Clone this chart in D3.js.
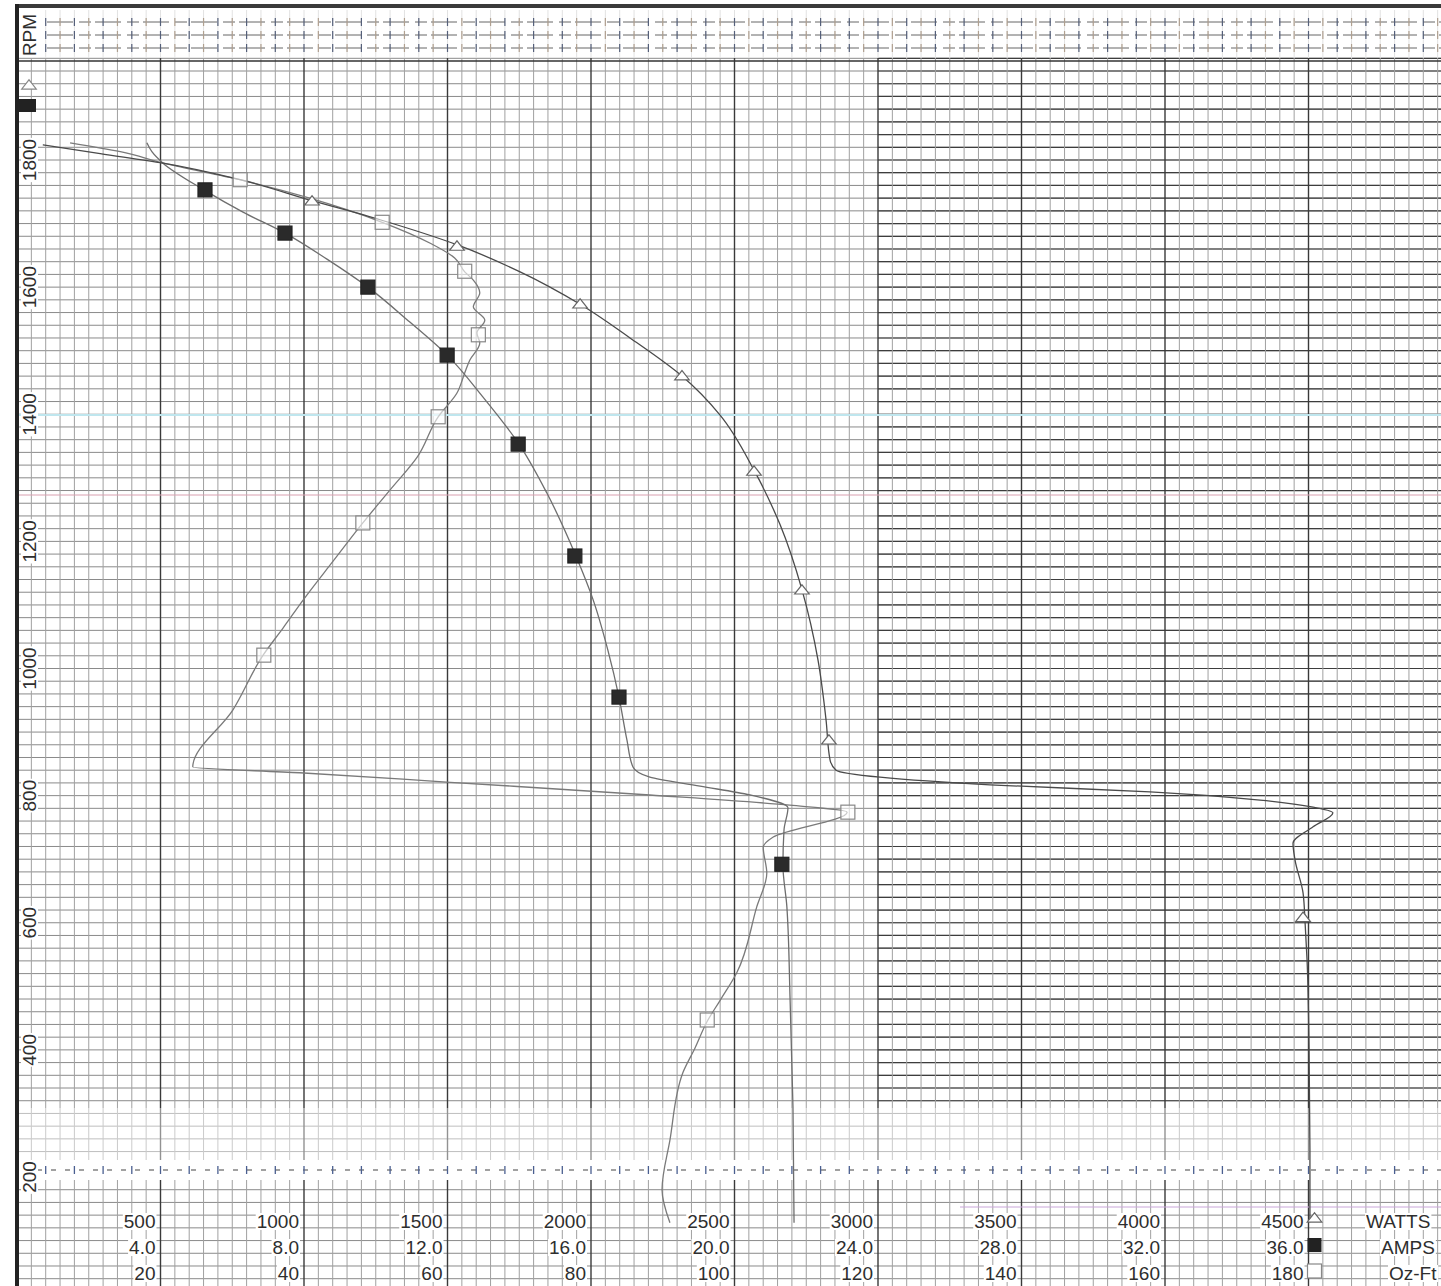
<!DOCTYPE html>
<html>
<head>
<meta charset="utf-8">
<script src="https://cdn.jsdelivr.net/npm/d3@7"></script>
<style>
html, body { margin: 0; padding: 0; background: #fff; }
svg { display: block; font-family: "Liberation Sans", Arial, sans-serif; }
</style>
</head>
<body>
<svg id="chart" width="1441" height="1286"></svg>
<script>
// ---- tick labels ----
const wattTicks = [500, 1000, 1500, 2000, 2500, 3000, 3500, 4000, 4500];
const ampTicks = [4, 8, 12, 16, 20, 24, 28, 32, 36];
const torqueTicks = [20, 40, 60, 80, 100, 120, 140, 160, 180];
const rpmTicks = [200, 400, 600, 800, 1000, 1200, 1400, 1600, 1800];
const seriesNames = ['WATTS', 'AMPS', 'Oz-Ft'];

// ---- curves, [value, rpm] ----
const wattsLine = [
    [90, 1824], [290, 1810], [509, 1795], [777, 1769], [1028, 1736], [1265, 1706],
    [1537, 1666], [1753, 1624], [1962, 1573], [2136, 1520], [2317, 1460], [2449, 1399],
    [2568, 1312], [2659, 1226], [2735, 1124], [2791, 1013], [2819, 919], [2833, 856],
    [2854, 840], [3007, 829], [3390, 817], [3948, 806], [4331, 793], [4516, 782],
    [4585, 773], [4516, 751], [4446, 725], [4453, 699], [4481, 647], [4488, 601],
    [4495, 541], [4502, 400], [4505, 242], [4505, 129]
];
const wattsMarks = [
    [1028, 1734], [1533, 1663], [1962, 1572], [2317, 1459], [2568, 1309],
    [2735, 1122], [2829, 886], [4481, 607]
];

const ampsLine = [
    [3.62, 1827], [3.76, 1813], [4.07, 1795], [5.21, 1753], [6.30, 1718], [7.47, 1685],
    [8.64, 1644], [9.78, 1600], [10.95, 1545], [11.99, 1493], [12.99, 1427], [13.97, 1355],
    [14.77, 1276], [15.58, 1177], [16.06, 1108], [16.47, 1029], [16.78, 955], [17.00, 888],
    [17.17, 845], [17.64, 829], [19.04, 815], [20.43, 801], [21.49, 781], [21.38, 746],
    [21.35, 691], [21.46, 625], [21.55, 478], [21.63, 310], [21.66, 128]
];
const ampsMarks = [
    [5.24, 1753], [7.47, 1685], [9.78, 1600], [11.99, 1493], [13.97, 1353],
    [15.55, 1177], [16.78, 955], [21.32, 692]
];

const torqueLine = [
    [7.4, 1827], [14.4, 1813], [20.4, 1795], [31.1, 1769], [40.8, 1740], [50.9, 1702],
    [57.6, 1669], [61.0, 1646], [62.4, 1624], [63.6, 1611], [64.5, 1591], [63.6, 1569],
    [65.2, 1548], [64.1, 1528], [64.5, 1512], [63.1, 1485], [62.4, 1465], [61.3, 1433],
    [58.7, 1396], [55.8, 1333], [52.0, 1281], [48.2, 1229], [44.0, 1168], [39.9, 1108],
    [37.1, 1064], [34.3, 1021], [30.1, 935], [24.5, 845], [39.4, 836], [60.4, 821],
    [88.2, 801], [107.7, 785], [115.7, 774], [105.4, 735], [104.0, 719], [104.5, 678],
    [103.1, 625], [100.3, 521], [98.0, 478], [96.2, 445], [94.5, 403], [92.8, 364],
    [91.0, 258], [89.9, 180], [91.0, 128]
];
const torqueMarks = [
    [31.1, 1769], [50.9, 1702], [62.4, 1625], [64.3, 1525], [58.7, 1396],
    [48.2, 1229], [34.4, 1021], [115.8, 774], [96.2, 447]
];

// ---- layout ----
const W = 1441, H = 1286;
const left = 17, right = 1452;
const gridTop = 58;

const xW = d3.scaleLinear().domain([0, 5000]).range([left, right]);
const xA = d3.scaleLinear().domain([0, 40]).range([left, right]);
const xT = d3.scaleLinear().domain([0, 200]).range([left, right]);
const y = d3.scaleLinear().domain([200, 1800]).range([1177, 160]);

const svg = d3.select('#chart');
svg.append('rect').attr('width', W).attr('height', H).attr('fill', '#fff');

// ---- graph paper ----
const grid = svg.append('g');
const minorX = d3.range(0, 5001, 50);
const minorY = d3.range(40, 1961, 20);
const rightEdge = xW(3000); // darker ruling to the right of 3000 W

grid.selectAll('line.h')
    .data(minorY)
    .join('line')
    .attr('x1', left).attr('x2', W)
    .attr('y1', d => y(d)).attr('y2', d => y(d))
    .attr('stroke', '#8a8a8a').attr('stroke-width', 1);

grid.selectAll('line.hr')
    .data(minorY.filter(d => y(d) < 1105))
    .join('line')
    .attr('x1', rightEdge).attr('x2', W)
    .attr('y1', d => y(d)).attr('y2', d => y(d))
    .attr('stroke', '#3d3d3d').attr('stroke-width', 1.2);

grid.selectAll('line.v')
    .data(minorX)
    .join('line')
    .attr('x1', d => xW(d)).attr('x2', d => xW(d))
    .attr('y1', gridTop).attr('y2', H)
    .attr('stroke', d => d % 500 === 0 ? '#3a3a3a' : '#a0a0a0')
    .attr('stroke-width', d => d % 500 === 0 ? 1.4 : 1);

// scanner tint lines
grid.append('line').attr('x1', left).attr('x2', W).attr('y1', 415).attr('y2', 415)
    .attr('stroke', '#bfe6ee').attr('stroke-width', 2);
grid.append('line').attr('x1', left).attr('x2', W).attr('y1', 495).attr('y2', 495)
    .attr('stroke', '#d9a0b0').attr('stroke-width', 1);
grid.append('line').attr('x1', 960).attr('x2', W).attr('y1', 1207).attr('y2', 1207)
    .attr('stroke', '#c9a6d9').attr('stroke-width', 1);

// top strip with broken ruling
svg.append('rect').attr('x', left).attr('y', 8).attr('width', W).attr('height', gridTop - 9).attr('fill', '#fff');
svg.selectAll(null)
    .data(minorX.filter(d => xW(d) > 36))
    .join('line')
    .attr('x1', d => xW(d)).attr('x2', d => xW(d))
    .attr('y1', 10).attr('y2', gridTop)
    .attr('stroke', '#e2e2e2').attr('stroke-width', 1);
[22, 35, 48].forEach(yy => {
    svg.append('line').attr('x1', left + 30).attr('x2', W).attr('y1', yy).attr('y2', yy)
        .attr('stroke', '#666').attr('stroke-width', 1).attr('stroke-dasharray', '26 6 12 4');
    svg.selectAll(null)
        .data(minorX.filter(d => xW(d) > 36))
        .join('line')
        .attr('x1', d => xW(d)).attr('x2', d => xW(d))
        .attr('y1', yy - 4).attr('y2', yy + 4)
        .attr('stroke', d => d % 100 === 0 ? '#55607a' : '#b0a090').attr('stroke-width', 1.2);
});
svg.append('line').attr('x1', left).attr('x2', W).attr('y1', 61).attr('y2', 61)
    .attr('stroke', '#333').attr('stroke-width', 1.3);

// faded band and dotted 200 RPM rule
svg.append('rect').attr('x', left).attr('y', 1108).attr('width', W).attr('height', 52)
    .attr('fill', '#fff').attr('opacity', 0.45);
svg.append('rect').attr('x', left).attr('y', 1160).attr('width', W).attr('height', 20).attr('fill', '#fff');
svg.append('line').attr('x1', left + 20).attr('x2', W).attr('y1', 1170).attr('y2', 1170)
    .attr('stroke', '#444').attr('stroke-width', 1.2).attr('stroke-dasharray', '5 9');
svg.selectAll(null)
    .data(minorX.filter(d => xW(d) > 36 && d % 100 === 0))
    .join('line')
    .attr('x1', d => xW(d)).attr('x2', d => xW(d))
    .attr('y1', 1166).attr('y2', 1174)
    .attr('stroke', '#4a5f90').attr('stroke-width', 1.3);

// borders
svg.append('line').attr('x1', left).attr('x2', W).attr('y1', 6).attr('y2', 6)
    .attr('stroke', '#3a3a3a').attr('stroke-width', 4);
svg.append('line').attr('x1', left).attr('x2', left).attr('y1', 4).attr('y2', H)
    .attr('stroke', '#222').attr('stroke-width', 4);

// ---- curves ----
// every trace runs steadily down in RPM, so a y-monotone spline keeps the pen corners sharp
const curves = svg.append('g').attr('fill', 'none').attr('stroke-linejoin', 'round');
const line = sx => d3.line().x(d => sx(d[0])).y(d => y(d[1])).curve(d3.curveMonotoneY);

curves.append('path').datum(torqueLine).attr('d', line(xT))
    .attr('stroke', '#7a7a7a').attr('stroke-width', 1.3);
curves.append('path').datum(ampsLine).attr('d', line(xA))
    .attr('stroke', '#6e6e6e').attr('stroke-width', 1.3);
curves.append('path').datum(wattsLine).attr('d', line(xW))
    .attr('stroke', '#4a4a4a').attr('stroke-width', 1.3);

// ---- markers ----
const tri = d3.symbol().type(d3.symbolTriangle).size(70);

function drawTriangles(g, data, sx) {
    g.selectAll(null).data(data).join('path')
        .attr('d', tri)
        .attr('transform', d => `translate(${sx(d[0])},${y(d[1])}) scale(1.15,0.85)`)
        .attr('fill', '#fff').attr('stroke', '#666').attr('stroke-width', 1.2);
}
function drawSquares(g, data, sx, filled) {
    g.selectAll(null).data(data).join('rect')
        .attr('x', d => sx(d[0]) - 7).attr('y', d => y(d[1]) - 7)
        .attr('width', 14).attr('height', 14)
        .attr('fill', filled ? '#2a2a2a' : '#fff')
        .attr('fill-opacity', filled ? 1 : 0.6)
        .attr('stroke', filled ? '#222' : '#888').attr('stroke-width', 1.2);
}

const marks = svg.append('g');
drawSquares(marks, torqueMarks, xT, false);
drawSquares(marks, ampsMarks, xA, true);
drawTriangles(marks, wattsMarks, xW);

// ---- text helpers ----
function boxedText(g, x, yy, txt, anchor, rotate) {
    const t = g.append('text')
        .attr('transform', `translate(${x},${yy})` + (rotate ? ' rotate(-90)' : ''))
        .attr('text-anchor', anchor)
        .attr('font-size', 19)
        .attr('fill', '#2e2e2e')
        .text(txt);
    const b = t.node().getBBox();
    g.insert('rect', () => t.node())
        .attr('transform', t.attr('transform'))
        .attr('x', b.x - 1).attr('y', b.y + 2)
        .attr('width', b.width + 2).attr('height', b.height - 4)
        .attr('fill', '#fff');
    return t;
}

// bottom scales
const labels = svg.append('g');
const rowY = [1228, 1254, 1280];
wattTicks.forEach(v => boxedText(labels, xW(v) - 5, rowY[0], String(v), 'end'));
ampTicks.forEach(v => boxedText(labels, xA(v) - 5, rowY[1], v.toFixed(1), 'end'));
torqueTicks.forEach(v => boxedText(labels, xT(v) - 5, rowY[2], String(v), 'end'));

// legend at right of the scales
const legendX = xW(4500) + 6;
const legend = svg.append('g');
legend.append('path').attr('d', tri)
    .attr('transform', `translate(${legendX},1219) scale(1.15,0.85)`)
    .attr('fill', '#fff').attr('stroke', '#666').attr('stroke-width', 1.2);
legend.append('rect').attr('x', legendX - 7).attr('y', 1238).attr('width', 14).attr('height', 14)
    .attr('fill', '#222');
legend.append('rect').attr('x', legendX - 7).attr('y', 1264).attr('width', 14).attr('height', 14)
    .attr('fill', '#fff').attr('stroke', '#888').attr('stroke-width', 1.2);
const nameX = [1366, 1381, 1389];
seriesNames.forEach((n, i) => boxedText(legend, nameX[i], rowY[i], n, 'start'));

// RPM axis
rpmTicks.forEach(v => boxedText(labels, 36, y(v), String(v), 'middle', true));
boxedText(labels, 36, 35, 'RPM', 'middle', true);
// key marks under the RPM title
legend.append('path').attr('d', tri)
    .attr('transform', 'translate(29,86) scale(1.15,0.85)')
    .attr('fill', '#fff').attr('stroke', '#888').attr('stroke-width', 1.2);
legend.append('rect').attr('x', 19).attr('y', 99).attr('width', 17).attr('height', 13).attr('fill', '#222');
</script>
</body>
</html>
